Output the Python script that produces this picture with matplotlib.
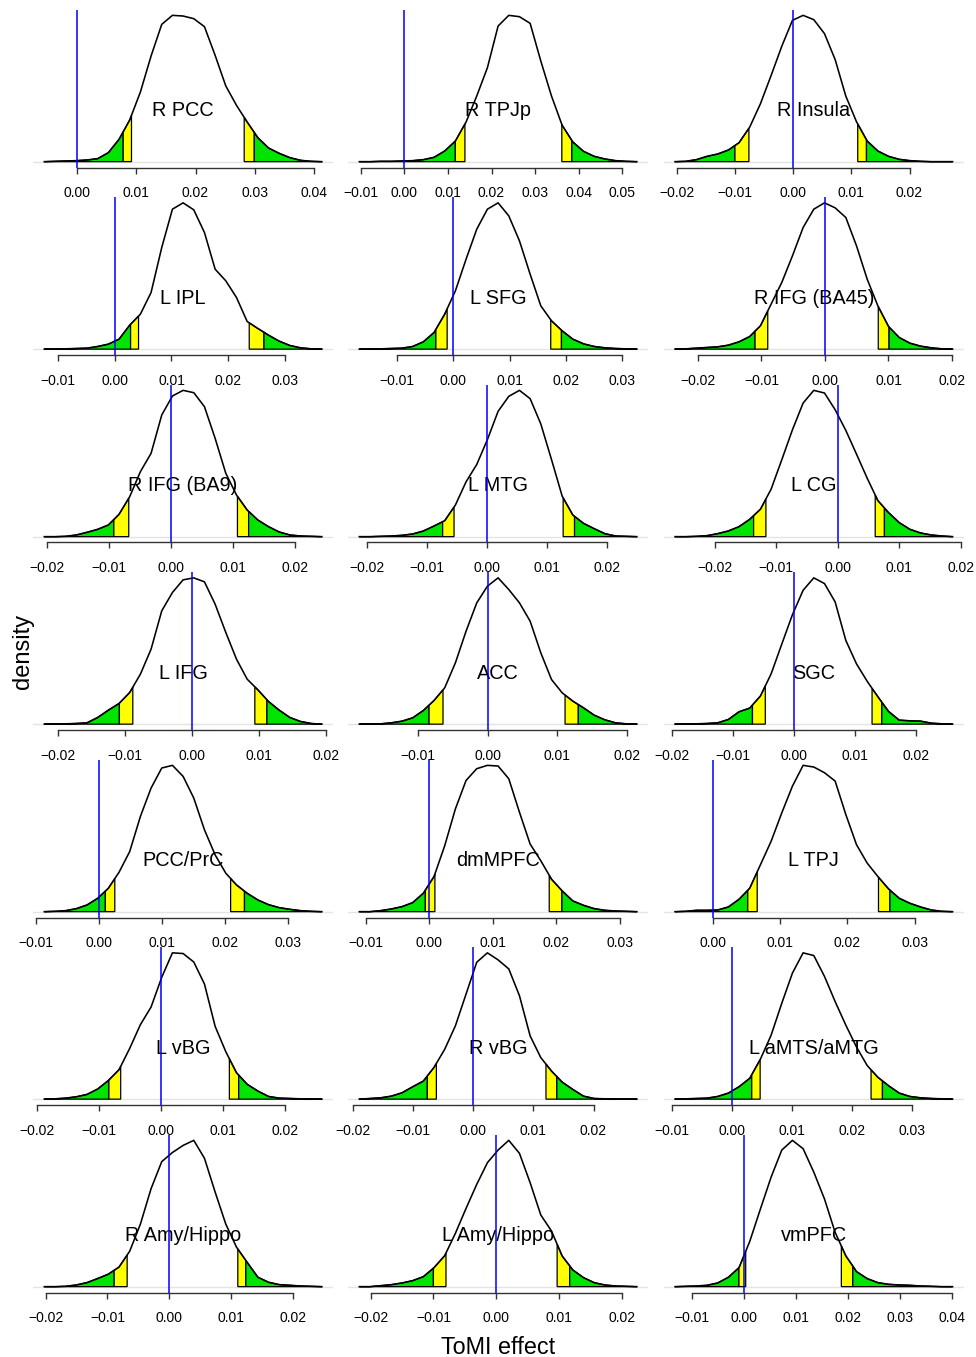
import numpy as np
import matplotlib
matplotlib.use('Agg')
import matplotlib.pyplot as plt

plt.rcParams['font.family'] = ['Liberation Sans', 'DejaVu Sans']
plt.rcParams['axes.unicode_minus'] = True

regions = ["R PCC", "R TPJp", "R Insula", "L IPL", "L SFG", "R IFG (BA45)",
           "R IFG (BA9)", "L MTG", "L CG", "L IFG", "ACC", "SGC",
           "PCC/PrC", "dmMPFC", "L TPJ", "L vBG", "R vBG", "L aMTS/aMTG",
           "R Amy/Hippo", "L Amy/Hippo", "vmPFC"]

# range of each density curve (ToMI effect)
x_lo = [-0.0055, -0.0103, -0.0203, -0.0124, -0.0167, -0.0236, -0.0204, -0.0213,
        -0.0265, -0.0220, -0.0184, -0.0195, -0.0087, -0.0110, -0.0056, -0.0188,
        -0.0189, -0.0095, -0.0202, -0.0218, -0.0133]
x_hi = [0.0413, 0.0533, 0.0274, 0.0365, 0.0326, 0.0201, 0.0243, 0.0250,
        0.0187, 0.0194, 0.0214, 0.0260, 0.0354, 0.0327, 0.0356, 0.0259,
        0.0272, 0.0368, 0.0247, 0.0224, 0.0401]

# quantile cut points (2.5 %, 5 %, 95 %, 97.5 %)
q025 = [0.0078, 0.0117, -0.0100, 0.0028, -0.0031, -0.0110, -0.0092, -0.0074,
        -0.0137, -0.0108, -0.0084, -0.0068, 0.0010, -0.0006, 0.0052, -0.0084,
        -0.0076, 0.0033, -0.0089, -0.0100, -0.0010]
q05 = [0.0092, 0.0139, -0.0076, 0.0042, -0.0011, -0.0090, -0.0068, -0.0055,
       -0.0117, -0.0088, -0.0064, -0.0047, 0.0025, 0.0009, 0.0066, -0.0065,
       -0.0061, 0.0047, -0.0068, -0.0080, 0.0003]
q95 = [0.0282, 0.0361, 0.0111, 0.0237, 0.0173, 0.0084, 0.0107, 0.0127,
       0.0061, 0.0094, 0.0111, 0.0128, 0.0209, 0.0189, 0.0246, 0.0110,
       0.0121, 0.0232, 0.0111, 0.0097, 0.0187]
q975 = [0.0299, 0.0384, 0.0126, 0.0263, 0.0192, 0.0101, 0.0125, 0.0146,
        0.0076, 0.0112, 0.0130, 0.0144, 0.0231, 0.0209, 0.0263, 0.0125,
        0.0139, 0.0251, 0.0124, 0.0117, 0.0209]

tick_lo = [0.00, -0.01, -0.02, -0.01, -0.01, -0.02, -0.02, -0.02, -0.02, -0.02,
           -0.01, -0.02, -0.01, -0.01, 0.00, -0.02, -0.02, -0.01, -0.02, -0.02, -0.01]
tick_hi = [0.04, 0.05, 0.02, 0.03, 0.03, 0.02, 0.02, 0.02, 0.02, 0.02,
           0.02, 0.02, 0.03, 0.03, 0.03, 0.02, 0.02, 0.03, 0.02, 0.02, 0.04]

# density heights (arbitrary units) at evenly spaced points from x_lo to x_hi
d_r_pcc = [0, 1, 2, 3, 5, 9, 27, 67, 125, 209, 317, 412, 439, 437, 429, 405, 319, 227, 169, 119, 72, 41, 25, 12, 4, 1, 0]
d_r_tpjp = [0, 0, 1, 1, 2, 3, 6, 13, 32, 62, 119, 197, 282, 407, 439, 435, 415, 302, 197, 109, 59, 31, 16, 8, 3, 1, 0]
d_r_insula = [0, 1, 6, 16, 23, 35, 57, 104, 174, 259, 347, 425, 440, 427, 385, 307, 197, 120, 62, 32, 16, 7, 3, 1, 0, 0, 0]
d_l_ipl = [0, 0, 1, 2, 3, 8, 15, 30, 72, 105, 170, 305, 420, 439, 418, 350, 240, 205, 155, 83, 62, 42, 24, 11, 4, 1, 0]
d_l_sfg = [0, 0, 1, 2, 3, 8, 22, 50, 105, 175, 270, 360, 420, 439, 400, 325, 225, 130, 85, 55, 30, 16, 8, 4, 2, 1, 0]
d_r_ifg45 = [0, 1, 3, 5, 7, 12, 22, 38, 70, 135, 200, 280, 365, 420, 439, 424, 395, 310, 210, 130, 68, 35, 18, 9, 4, 1, 0]
d_r_ifg9 = [0, 0, 1, 5, 13, 22, 35, 67, 120, 195, 250, 365, 422, 439, 432, 390, 295, 190, 125, 80, 50, 30, 14, 5, 2, 1, 0]
d_l_mtg = [0, 0, 1, 2, 4, 8, 17, 32, 48, 95, 165, 217, 292, 377, 422, 440, 415, 339, 232, 122, 65, 40, 24, 9, 2, 1, 0]
d_l_cg = [0, 0, 1, 3, 9, 17, 30, 52, 82, 142, 230, 320, 400, 438, 430, 380, 318, 247, 175, 108, 72, 42, 22, 11, 5, 2, 0]
d_l_ifg = [0, 0, 1, 2, 4, 20, 42, 62, 95, 150, 225, 340, 395, 433, 439, 427, 360, 275, 195, 135, 103, 68, 42, 20, 8, 2, 0]
d_acc = [0, 0, 1, 4, 9, 19, 41, 71, 109, 184, 279, 364, 414, 439, 404, 364, 309, 214, 134, 94, 69, 49, 27, 13, 4, 1, 0]
d_sgc = [0, 0, 1, 2, 4, 14, 37, 48, 84, 150, 239, 327, 400, 437, 420, 365, 250, 180, 128, 82, 38, 12, 10, 9, 3, 1, 0]
d_pcc_prc = [0, 1, 3, 9, 20, 40, 70, 118, 180, 285, 370, 430, 438, 405, 340, 245, 170, 115, 80, 55, 35, 21, 12, 7, 3, 1, 0]
d_dmmpfc = [0, 0, 3, 8, 15, 27, 55, 105, 197, 307, 392, 427, 437, 435, 397, 297, 202, 152, 97, 62, 32, 19, 9, 4, 2, 1, 0]
d_l_tpj = [0, 1, 4, 4, 5, 14, 37, 70, 140, 210, 295, 375, 437, 432, 415, 390, 290, 200, 145, 105, 68, 40, 25, 14, 5, 1, 0]
d_l_vbg = [0, 1, 3, 7, 14, 30, 55, 87, 150, 220, 272, 360, 432, 430, 405, 340, 215, 140, 78, 44, 24, 8, 3, 2, 1, 0, 0]
d_r_vbg = [0, 2, 4, 9, 19, 37, 54, 95, 149, 219, 314, 409, 437, 416, 389, 309, 189, 124, 84, 51, 29, 9, 2, 1, 0, 0, 0]
d_l_amts = [0, 1, 2, 3, 8, 18, 37, 62, 119, 190, 285, 375, 435, 427, 365, 290, 220, 155, 100, 65, 40, 18, 8, 4, 2, 1, 0]
d_r_amy = [0, 0, 1, 5, 12, 24, 37, 58, 105, 185, 290, 370, 397, 418, 433, 380, 280, 185, 117, 72, 28, 13, 6, 4, 2, 1, 0]
d_l_amy = [0, 0, 3, 6, 11, 18, 30, 57, 93, 160, 235, 307, 372, 410, 439, 400, 312, 215, 167, 92, 50, 27, 12, 5, 2, 1, 0]
d_vmpfc = [0, 1, 2, 4, 11, 28, 57, 135, 232, 327, 408, 437, 412, 342, 262, 162, 92, 45, 24, 12, 7, 5, 4, 2, 1, 0, 0]

densities = [d_r_pcc, d_r_tpjp, d_r_insula, d_l_ipl, d_l_sfg, d_r_ifg45,
             d_r_ifg9, d_l_mtg, d_l_cg, d_l_ifg, d_acc, d_sgc,
             d_pcc_prc, d_dmmpfc, d_l_tpj, d_l_vbg, d_r_vbg, d_l_amts,
             d_r_amy, d_l_amy, d_vmpfc]

W, H = 976, 1357
fig = plt.figure(figsize=(W / 100, H / 100), dpi=100)
fig.patch.set_facecolor('white')

col_left = [33.2, 348.2, 663.9]
plot_w = 299.8
row_top0 = 9.5
row_pitch = 187.5
plot_h = 158.0

GREEN = '#00e400'
YELLOW = '#ffff00'


def tail(ax, xs, ys, a, b, color):
    inner = (xs > a) & (xs < b)
    px = np.concatenate([[a], xs[inner], [b]])
    py = np.interp(px, xs, ys)
    vx = np.concatenate([[a], px, [b]])
    vy = np.concatenate([[0], py, [0]])
    ax.fill(vx, vy, facecolor=color, edgecolor='black', linewidth=0.9, zorder=2)


for i, name in enumerate(regions):
    r, c = divmod(i, 3)
    top = row_top0 + r * row_pitch
    ax = fig.add_axes([col_left[c] / W, 1 - (top + plot_h) / H, plot_w / W, plot_h / H])
    ys = np.array(densities[i], dtype=float)
    xs = np.linspace(x_lo[i], x_hi[i], len(ys))
    ymax = ys.max()
    span = x_hi[i] - x_lo[i]
    ax.set_xlim(x_lo[i] - 0.04 * span, x_hi[i] + 0.04 * span)
    ax.set_ylim(-0.04 * ymax, 1.04 * ymax)
    ax.axhline(0, color='#e4e4e4', linewidth=1.0, zorder=1)

    tail(ax, xs, ys, x_lo[i], q025[i], GREEN)
    tail(ax, xs, ys, q025[i], q05[i], YELLOW)
    tail(ax, xs, ys, q95[i], q975[i], YELLOW)
    tail(ax, xs, ys, q975[i], x_hi[i], GREEN)

    ax.plot(xs, ys, color='black', linewidth=1.15, zorder=3, solid_joinstyle='round')
    ax.text(0.5, 0.36, name, transform=ax.transAxes, ha='center', va='center',
            fontsize=14.3, color='black', zorder=4)
    ax.axvline(0, color='#0000ff', linewidth=1.1, zorder=5)

    ticks = np.round(np.arange(tick_lo[i], tick_hi[i] + 0.005, 0.01), 2)
    ax.set_xticks(ticks)
    ax.set_xticklabels([('%.2f' % t).replace('-', '\u2212') if abs(t) > 1e-9 else '0.00'
                        for t in ticks])
    ax.set_yticks([])
    for s in ['top', 'right', 'left']:
        ax.spines[s].set_visible(False)
    ax.spines['bottom'].set_bounds(ticks[0], ticks[-1])
    ax.spines['bottom'].set_color('#333333')
    ax.spines['bottom'].set_linewidth(1.0)
    ax.tick_params(axis='x', direction='out', length=4.0, width=1.0, pad=9.5,
                   labelsize=10, color='#333333', labelcolor='black')
    ax.patch.set_alpha(0)

fig.text(23 / W, 1 - 651 / H, 'density', rotation=90, ha='center', va='center', fontsize=17)
fig.text(498 / W, 1 - 1347 / H, 'ToMI effect', ha='center', va='center', fontsize=16.8)

fig.savefig('out.png', dpi=100, facecolor='white')
